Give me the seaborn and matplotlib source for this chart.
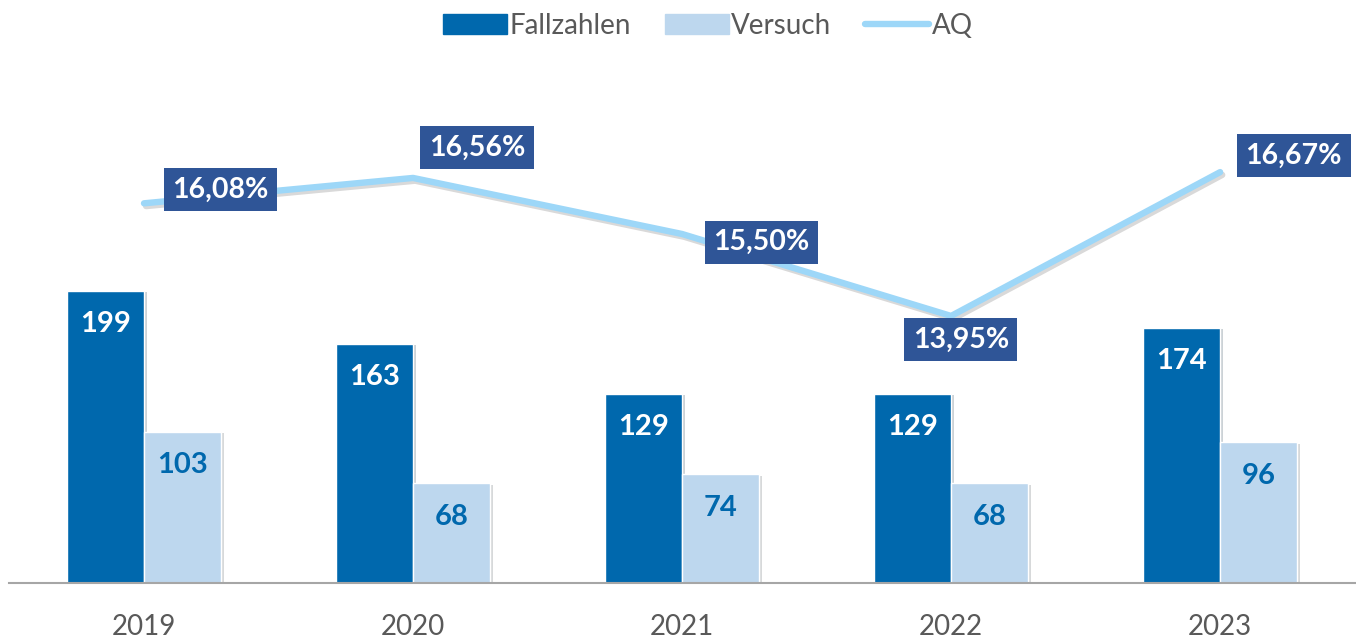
import numpy as np
import pandas as pd
import seaborn as sns
import matplotlib.pyplot as plt
import matplotlib.patheffects as pe
from matplotlib.patches import Patch
from matplotlib.lines import Line2D

# data
years = ['2019', '2020', '2021', '2022', '2023']
fallzahlen = [199, 163, 129, 129, 174]
versuch = [103, 68, 74, 68, 96]
aq = [16.08, 16.56, 15.50, 13.95, 16.67]

# label offsets for the AQ boxes (points), picked by eye
aq_offsets = [(55, 10), (46, 22), (57, -6), (7, -17), (53, 12)]

dark_blue = '#0068AD'
light_blue = '#BDD7EE'
line_blue = '#9DD7F8'
box_blue = '#2F5597'
grey_text = '#595959'

sns.set_theme(style='white')
plt.rcParams['font.family'] = ['Lato', 'DejaVu Sans']

df = pd.DataFrame({
    'Jahr': years * 2,
    'Wert': fallzahlen + versuch,
    'Serie': ['Fallzahlen'] * len(years) + ['Versuch'] * len(years),
})

fig = plt.figure(figsize=(13.56, 6.39), dpi=100)
ax = fig.add_axes([0.007, 0.0876, 0.992, 0.8185])

sns.barplot(data=df, x='Jahr', y='Wert', hue='Serie', palette=[dark_blue, light_blue],
            width=0.572, saturation=1, ax=ax, legend=False)

# subtle shadow on the bars like in the original
for bar in ax.patches:
    bar.set_path_effects([pe.SimplePatchShadow(offset=(2, -1), alpha=0.2), pe.Normal()])

ax.set_ylim(0, 356.5)
ax.set_xlim(-0.5, 4.5)

# value labels inside the bars
for cont, col in zip(ax.containers, ['white', dark_blue]):
    for bar in cont:
        h = bar.get_height()
        ax.annotate(f'{h:.0f}', (bar.get_x() + bar.get_width() / 2, h),
                    xytext=(0, -24), textcoords='offset points',
                    ha='center', va='center', fontsize=21, fontweight='bold', color=col)

# AQ line on secondary axis
ax2 = ax.twinx()
x = np.arange(len(years))
sns.lineplot(x=x, y=aq, ax=ax2, color=line_blue, linewidth=4.6, sort=False,
             path_effects=[pe.SimpleLineShadow(offset=(1.5, -2), shadow_color='black', alpha=0.15),
                           pe.Normal()])
ax2.set_ylim(8.9, 18.79)
ax2.set_xlim(-0.5, 4.5)

for xi, v, off in zip(x, aq, aq_offsets):
    ax2.annotate(f'{v:.2f}%'.replace('.', ','), (xi, v), xytext=off, textcoords='offset points',
                 ha='center', va='center', fontsize=20.5, fontweight='bold', color='white',
                 bbox=dict(boxstyle='square,pad=0.3', fc=box_blue, ec='none'))

for a in (ax, ax2):
    a.set_yticks([])
    a.set_ylabel('')
    a.set_xlabel('')
    for s in ['top', 'left', 'right']:
        a.spines[s].set_visible(False)
ax2.spines['bottom'].set_visible(False)
ax.spines['bottom'].set_color('#A6A6A6')
ax.spines['bottom'].set_linewidth(1.5)
ax.tick_params(axis='x', length=0, pad=22, labelsize=20, labelcolor=grey_text)

handles = [Patch(color=dark_blue), Patch(color=light_blue),
           Line2D([0], [0], color=line_blue, linewidth=4.6, solid_capstyle='round')]
fig.legend(handles, ['Fallzahlen', 'Versuch', 'AQ'], loc='center', bbox_to_anchor=(0.522, 0.96),
           ncol=3, frameon=False, fontsize=20, labelcolor=grey_text, handlelength=2.3,
           handletextpad=0.1, columnspacing=1.2)

fig.savefig('out.png', dpi=100)
